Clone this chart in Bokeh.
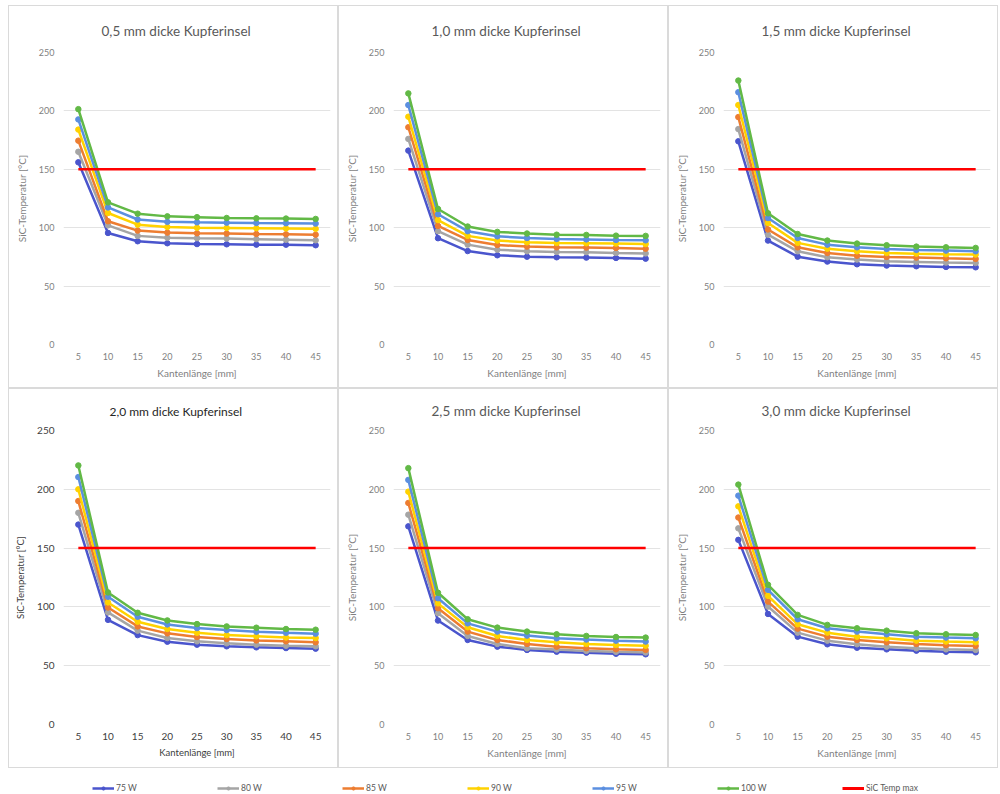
from bokeh.plotting import figure
from bokeh.layouts import column, row
from bokeh.models import Range1d, FixedTicker, Legend, LegendItem, Spacer
from bokeh.embed import file_html
from bokeh.resources import INLINE

# ---------------- data ----------------
kantenlaenge = [5, 10, 15, 20, 25, 30, 35, 40, 45]
series_names = ["75 W", "80 W", "85 W", "90 W", "95 W", "100 W"]
series_colors = ["#4A55CD", "#A5A5A5", "#ED7D31", "#FFD200", "#5B8FE0", "#62B946"]
sic_temp_max = 150
max_label = "SiC Temp max"
y_ticks = [0, 50, 100, 150, 200, 250]

titles = ["0,5 mm dicke Kupferinsel", "1,0 mm dicke Kupferinsel", "1,5 mm dicke Kupferinsel",
          "2,0 mm dicke Kupferinsel", "2,5 mm dicke Kupferinsel", "3,0 mm dicke Kupferinsel"]

# each list: 75 W, 80 W, 85 W, 90 W, 95 W, 100 W
panel_05 = [
    [156, 95.5, 88.4, 86.7, 86.0, 85.8, 85.5, 85.5, 85.0],
    [165, 102, 93.0, 91.5, 91.0, 90.7, 90.2, 89.7, 89.2],
    [174.5, 105.5, 97.5, 95.8, 95.2, 95.0, 94.6, 94.3, 94.0],
    [184, 112.6, 102.6, 100.6, 100.0, 99.8, 99.6, 99.4, 99.0],
    [192.7, 117.4, 107.0, 105.0, 104.6, 104.3, 104.0, 103.8, 103.5],
    [201.5, 121.7, 112.0, 109.7, 109.0, 108.3, 108.0, 107.8, 107.5],
]
panel_10 = [
    [166, 91.0, 80.0, 76.4, 75.2, 74.7, 74.4, 74.1, 73.5],
    [176, 97.0, 85.5, 81.2, 79.8, 79.2, 79.0, 78.4, 78.0],
    [186, 101.5, 89.5, 85.2, 83.8, 83.2, 83.0, 82.7, 82.0],
    [195, 106.5, 93.0, 89.0, 87.5, 87.0, 86.7, 86.4, 86.0],
    [205, 111.5, 97.0, 92.6, 91.2, 90.4, 90.0, 89.5, 89.2],
    [215, 116.0, 101.0, 96.4, 95.0, 94.0, 93.8, 93.2, 93.0],
]
panel_15 = [
    [174, 89.0, 75.2, 71.0, 68.7, 67.6, 67.0, 66.4, 66.1],
    [184.4, 94.0, 79.8, 74.7, 72.7, 71.3, 70.7, 70.1, 69.8],
    [194.7, 98.5, 83.2, 78.4, 76.0, 75.0, 74.4, 73.8, 73.3],
    [205, 104.0, 87.0, 82.0, 79.8, 78.4, 77.8, 77.3, 77.0],
    [216, 108.3, 91.2, 85.5, 83.2, 81.8, 81.0, 80.4, 79.8],
    [226, 112.3, 94.6, 89.0, 86.4, 85.0, 83.8, 83.2, 82.7],
]
panel_20 = [
    [170, 89.0, 76.0, 70.4, 67.9, 66.5, 65.6, 65.0, 64.5],
    [180, 95.3, 79.8, 73.5, 70.7, 69.0, 67.9, 67.0, 66.5],
    [190, 99.5, 83.4, 77.5, 74.4, 72.7, 71.5, 70.7, 69.9],
    [200, 103.8, 87.4, 81.2, 78.0, 76.0, 75.0, 74.0, 73.5],
    [210.4, 108.6, 91.6, 85.1, 82.0, 80.3, 78.9, 78.0, 77.2],
    [220.3, 112.3, 95.0, 88.5, 85.4, 83.4, 82.3, 81.2, 80.6],
]
panel_25 = [
    [168.5, 88.4, 71.9, 66.2, 63.4, 61.9, 61.1, 60.2, 59.7],
    [178.4, 94.6, 75.3, 68.5, 64.8, 63.8, 62.6, 61.8, 61.2],
    [188.4, 98.9, 79.0, 71.9, 68.5, 66.2, 64.8, 63.9, 63.4],
    [198, 103.0, 82.7, 75.3, 71.9, 69.9, 68.5, 67.6, 67.0],
    [208, 107.4, 86.0, 79.0, 75.6, 73.3, 72.2, 71.3, 70.5],
    [218, 112.0, 89.5, 82.4, 79.0, 76.7, 75.3, 74.4, 73.9],
]
panel_30 = [
    [157, 94.0, 74.7, 68.2, 65.3, 63.9, 62.8, 61.9, 61.4],
    [166.8, 100.3, 78.1, 71.3, 68.2, 66.2, 64.8, 63.9, 63.4],
    [176, 104.5, 81.5, 74.7, 71.9, 69.9, 68.5, 67.3, 66.8],
    [185.5, 109.4, 85.2, 78.1, 74.7, 73.3, 71.3, 70.5, 69.9],
    [194.6, 114.5, 89.5, 81.8, 79.0, 76.7, 74.7, 73.9, 73.3],
    [204, 118.8, 93.2, 84.7, 81.8, 79.8, 77.6, 76.7, 76.1],
]
panels = [panel_05, panel_10, panel_15, panel_20, panel_25, panel_30]

FONT = "Lato"
TXT = "#595959"
TICK = "#7F7F7F"
GRID = "#E3E3E3"


def make_panel(title, data, height, top, standoff, dark=False):
    p = figure(width=330, height=height, output_backend="svg", toolbar_location=None,
               x_range=Range1d(2.5, 47.5), y_range=Range1d(0, 250),
               min_border_left=54, min_border_right=9, min_border_top=top, min_border_bottom=45,
               title=title)
    p.styles = {"border": "1px solid #DADADA", "box-sizing": "border-box"}
    p.title.align = "left"
    p.title.vertical_align = "top"
    p.title.offset = 46 if dark else 38
    p.title.text_font = FONT
    p.title.text_font_size = "12px" if dark else "13.5px"
    p.title.text_font_style = "normal"
    p.title.text_color = "#262626" if dark else TXT
    p.title.standoff = standoff
    p.outline_line_color = None
    p.background_fill_color = "white"
    p.border_fill_color = "white"
    p.xgrid.grid_line_color = None
    p.ygrid.grid_line_color = GRID
    p.ygrid.grid_line_width = 1
    p.xaxis.ticker = FixedTicker(ticks=kantenlaenge)
    p.yaxis.ticker = FixedTicker(ticks=y_ticks)
    for ax in (p.xaxis, p.yaxis):
        ax.axis_line_color = None
        ax.major_tick_line_color = None
        ax.minor_tick_line_color = None
        ax.major_tick_out = 0
        ax.major_tick_in = 0
        ax.minor_tick_out = 0
        ax.major_label_text_font = FONT
        ax.major_label_text_font_size = "10px" if dark else "9px"
        ax.major_label_text_color = "#404040" if dark else TICK
        ax.axis_label_text_font = FONT
        ax.axis_label_text_font_size = "9.5px" if dark else "10px"
        ax.axis_label_text_font_style = "normal"
        ax.axis_label_text_color = "#404040" if dark else TICK
    p.xaxis.axis_label = "Kantenlänge [mm]"
    p.yaxis.axis_label = "SiC-Temperatur [°C]"
    p.xaxis.major_label_standoff = 8
    p.xaxis.axis_label_standoff = 4
    p.yaxis.major_label_standoff = 9
    p.yaxis.axis_label_standoff = 8
    for vals, col in zip(data, series_colors):
        p.line(kantenlaenge, vals, line_color=col, line_width=2.5)
        p.scatter(kantenlaenge, vals, size=5.5, fill_color=col, line_color=col)
    p.line([kantenlaenge[0], kantenlaenge[-1]], [sic_temp_max, sic_temp_max],
           line_color="#FF0000", line_width=2.5)
    return p


figs = []
for i, (t, d) in enumerate(zip(titles, panels)):
    if i < 3:
        figs.append(make_panel(t, d, 383, 46, 23))
    else:
        figs.append(make_panel(t, d, 380, 41, 19, dark=(i == 3)))

# legend strip (renderers use the data but lie outside the visible ranges)
lf = figure(width=990, height=26, output_backend="svg", toolbar_location=None,
            x_range=Range1d(1000, 1001), y_range=Range1d(1000, 1001),
            min_border=0)
lf.axis.visible = False
lf.grid.visible = False
lf.outline_line_color = None
items = []
for name, col, vals in zip(series_names, series_colors, panel_05):
    rl = lf.line(kantenlaenge, vals, line_color=col, line_width=2.5)
    rs = lf.scatter(kantenlaenge, vals, size=3.5, fill_color=col, line_color=col)
    items.append(LegendItem(label=name, renderers=[rl, rs]))
rr = lf.line([kantenlaenge[0], kantenlaenge[-1]], [sic_temp_max, sic_temp_max],
             line_color="#FF0000", line_width=3)
items.append(LegendItem(label=max_label, renderers=[rr]))
leg = Legend(items=items, orientation="horizontal", location=(84, 1),
             spacing=41, glyph_width=22, glyph_height=8, label_standoff=2, label_width=60,
             label_text_font=FONT, label_text_font_size="8.5px", label_text_color=TXT,
             border_line_color=None, background_fill_alpha=0, padding=0, margin=0)
lf.add_layout(leg, "center")

layout = row(Spacer(width=8),
             column(Spacer(height=5),
                    row(figs[0], figs[1], figs[2]),
                    row(figs[3], figs[4], figs[5]),
                    lf))

open("out.html", "w").write(file_html(layout, INLINE))
